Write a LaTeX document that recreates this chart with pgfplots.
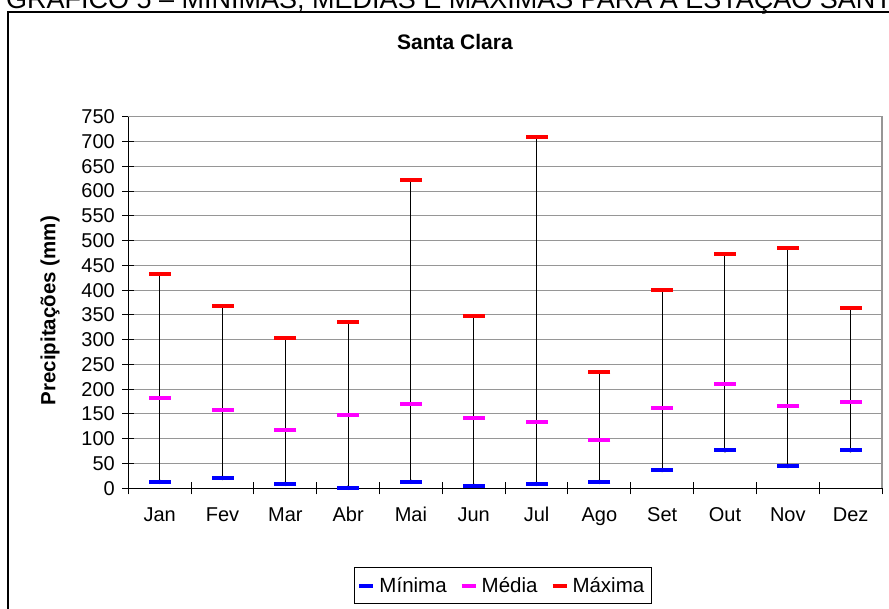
\documentclass[border=0pt]{standalone}
\usepackage{pgfplots}
\pgfplotsset{compat=1.18}
\usepackage{pgfplotstable}
\usepackage{fontspec}
\setmainfont{Liberation Sans}
\definecolor{cmin}{RGB}{0,0,255}
\definecolor{cmed}{RGB}{255,0,255}
\definecolor{cmax}{RGB}{255,0,0}
\definecolor{gridc}{RGB}{150,150,150}
\pgfplotstableread{
x min med max
1 13 183 433
2 21 159 368
3 9 118 303
4 1 147 336
5 13 170 622
6 5 142 348
7 9 134 710
8 13 98 235
9 37 162 400
10 77 211 473
11 45 166 485
12 77 174 364
}\data
\begin{document}
\begin{tikzpicture}[x=1pt,y=1pt]
\useasboundingbox (0,0) rectangle (889,608);
\clip (0,0) rectangle (889,608);
% caption (cut off at top and right, as in the reference)
\node[anchor=base west, inner sep=0pt, font=\fontsize{27}{30}\selectfont] at (6,599.5) {GRÁFICO 5 – MÍNIMAS, MÉDIAS E MÁXIMAS PARA A ESTAÇÃO SANTA CLARA};
% outer frame
\draw[line width=1.3pt] (8,-10) -- (8,596) -- (900,596);
\node[font=\bfseries\fontsize{21}{25}\selectfont] at (455,566) {Santa Clara};
\begin{axis}[
  at={(128.3pt,119.7pt)}, anchor=south west,
  scale only axis, width=753.7pt, height=371.6pt,
  xmin=0.5, xmax=12.5, ymin=0, ymax=750,
  axis lines=left, axis line style={-, black, line width=1.3pt},
  xtick={0.5,1.5,...,12.5}, x tick label as interval=true,
  xticklabels={Jan,Fev,Mar,Abr,Mai,Jun,Jul,Ago,Set,Out,Nov,Dez},
  ytick={0,50,...,750},
  ymajorgrids, grid style={gridc, line width=1pt},
  tick align=center, major tick length=12pt,
  tick style={black, line width=1pt},
  /pgf/number format/assume math mode=true,
  tick label style={font=\fontsize{20}{24}\selectfont},
  xticklabel style={anchor=north, text height=15pt, text depth=3pt, yshift=-9pt},
  yticklabel style={xshift=-4pt},
  ylabel={Precipitações (mm)},
  every axis y label/.style={at={(axis description cs:-0.1039,0.478)}, rotate=90, anchor=center,
    font=\bfseries\fontsize{20.5}{24}\selectfont},
  legend style={at={(0.497,-0.2616)}, anchor=center, legend columns=3, draw=black, line width=1pt,
    font=\fontsize{20.5}{24}\selectfont, inner xsep=3pt, inner ysep=8pt,
    /tikz/every even column/.append style={column sep=9pt},
    /tikz/every odd column/.append style={column sep=0pt},
    nodes={inner xsep=4pt}},
  legend cell align=left,
  clip=false,
]
\draw[gridc, line width=1.5pt] (rel axis cs:0,1) -- (rel axis cs:1,1) -- (rel axis cs:1,0);
\addplot[only marks, mark=none, forget plot,
  error bars/.cd, y dir=plus, y explicit, error mark=none,
  error bar style={black, line width=1pt}]
  table[x=x, y=min, y error plus expr=\thisrow{max}-\thisrow{min}] {\data};
\addplot[only marks, mark=-, mark size=11pt, color=cmin, mark options={line width=4pt},
  legend image code/.code={\draw[cmin, line width=4pt] (0pt,0pt) -- (14pt,0pt);}]
  table[x=x, y=min] {\data};
\addlegendentry{Mínima}
\addplot[only marks, mark=-, mark size=11pt, color=cmed, mark options={line width=4pt},
  legend image code/.code={\draw[cmed, line width=4pt] (0pt,0pt) -- (14pt,0pt);}]
  table[x=x, y=med] {\data};
\addlegendentry{Média}
\addplot[only marks, mark=-, mark size=11pt, color=cmax, mark options={line width=4pt},
  legend image code/.code={\draw[cmax, line width=4pt] (0pt,0pt) -- (14pt,0pt);}]
  table[x=x, y=max] {\data};
\addlegendentry{Máxima}
\end{axis}
\end{tikzpicture}
\end{document}
